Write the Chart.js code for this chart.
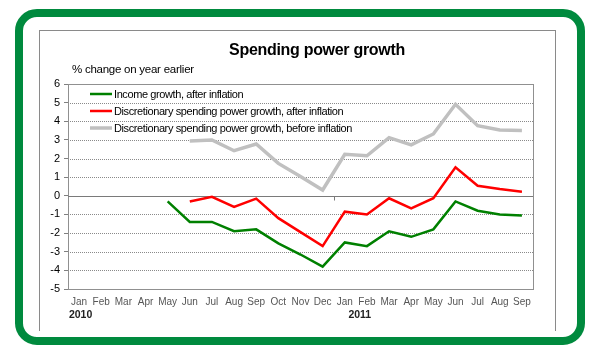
<!DOCTYPE html>
<html><head><meta charset="utf-8">
<script src="https://cdn.jsdelivr.net/npm/chart.js@4"></script>
<style>
html,body{margin:0;padding:0;background:#fff;}
#wrap{position:relative;width:600px;height:355px;overflow:hidden;}
#green{position:absolute;left:15px;top:9px;width:554px;height:320px;border:8px solid #008a3e;border-radius:22px;}
#inner{position:absolute;left:39px;top:30px;width:515px;height:300px;border:1px solid #8a8a8a;border-bottom:none;}
canvas{position:absolute;left:0;top:0;}
</style></head>
<body><div id="wrap"><div id="green"></div><div id="inner"></div><canvas id="c" width="600" height="355"></canvas></div>
<script>
const categories = ['Jan','Feb','Mar','Apr','May','Jun','Jul','Aug','Sep','Oct','Nov','Dec',
                    'Jan','Feb','Mar','Apr','May','Jun','Jul','Aug','Sep'];
const years = ['2010','2011'];
const yTicks = [6,5,4,3,2,1,0,-1,-2,-3,-4,-5];
const seriesNames = ['Income growth, after inflation',
                     'Discretionary spending power growth, after inflation',
                     'Discretionary spending power growth, before inflation'];
const incomeAfter = [null,null,null,null,-0.3,-1.4,-1.4,-1.9,-1.8,-2.55,-3.15,-3.8,
                     -2.5,-2.7,-1.9,-2.2,-1.8,-0.3,-0.8,-1.0,-1.05];
const discAfter   = [null,null,null,null,null,-0.3,-0.05,-0.6,-0.15,-1.2,-1.95,-2.7,
                     -0.85,-1.0,-0.13,-0.67,-0.13,1.53,0.54,0.36,0.22];
const discBefore  = [null,null,null,null,null,2.94,3.0,2.42,2.78,1.74,1.03,0.31,
                     2.23,2.15,3.12,2.73,3.32,4.91,3.76,3.53,3.51];

const FONT = 'Arial, "Liberation Sans", sans-serif';

const decor = {
  id:'decor',
  beforeDatasetsDraw(chart){
    const {ctx, chartArea:a, scales:{x,y}} = chart;
    ctx.save();
    // dotted grid
    ctx.strokeStyle = '#8a8a8a'; ctx.lineWidth = 1; ctx.setLineDash([1,1]);
    yTicks.forEach(v=>{
      if(v===6||v===-5||v===0) return;
      const py = Math.round(y.getPixelForValue(v))+0.5;
      ctx.beginPath(); ctx.moveTo(a.left, py); ctx.lineTo(a.right, py); ctx.stroke();
    });
    ctx.setLineDash([]);
    ctx.strokeStyle = '#909090';
    ctx.strokeRect(Math.round(a.left)+0.5, Math.round(a.top)+0.5, Math.round(a.right-a.left), Math.round(a.bottom-a.top));
    // zero (category) axis
    const z = Math.round(y.getPixelForValue(0))+0.5;
    ctx.strokeStyle = '#7a7a7a';
    ctx.beginPath(); ctx.moveTo(a.left, z); ctx.lineTo(a.right, z); ctx.stroke();
    // year boundary tick
    const bx = Math.round((x.getPixelForValue(11)+x.getPixelForValue(12))/2)+0.5;
    ctx.beginPath(); ctx.moveTo(bx, z); ctx.lineTo(bx, z+4); ctx.stroke();
    ctx.restore();
  },
  afterDraw(chart){
    const {ctx, scales:{x}} = chart;
    ctx.save();
    ctx.fillStyle = '#000';
    ctx.textBaseline = 'middle';
    ctx.font = 'bold 16px ' + FONT; ctx.textAlign='center';
    ctx.letterSpacing = '-0.3px';
    ctx.fillText('Spending power growth', 317, 51);
    ctx.font = '11.5px ' + FONT; ctx.textAlign='left';
    ctx.letterSpacing = '-0.25px';
    ctx.fillText('% change on year earlier', 72, 70);
    ctx.letterSpacing = '0px';
    // year labels
    ctx.font = 'bold 10.5px ' + FONT; ctx.textAlign='center'; ctx.fillStyle='#222';
    ctx.fillText(years[0], x.getPixelForValue(0)+1.5, 315);
    ctx.fillText(years[1], x.getPixelForValue(12)+15, 315);
    // legend
    const ds = chart.data.datasets;
    const rows = [94,111,128];
    ctx.font = '11px ' + FONT; ctx.textAlign='left'; ctx.fillStyle='#000';
    ctx.letterSpacing = '-0.4px';
    ds.forEach((d,i)=>{
      ctx.strokeStyle = d.borderColor; ctx.lineWidth = d.borderWidth;
      ctx.beginPath(); ctx.moveTo(90, rows[i]); ctx.lineTo(112, rows[i]); ctx.stroke();
      ctx.fillText(d.label, 114, rows[i]+0.5);
    });
    ctx.restore();
  }
};

new Chart(document.getElementById('c'), {
  type:'line',
  data:{
    labels: categories,
    datasets:[
      {label:seriesNames[0], data:incomeAfter, borderColor:'#008000', borderWidth:2.5, pointRadius:0, tension:0, spanGaps:false},
      {label:seriesNames[1], data:discAfter, borderColor:'#ff0000', borderWidth:2.5, pointRadius:0, tension:0},
      {label:seriesNames[2], data:discBefore, borderColor:'#c0c0c0', borderWidth:3.5, pointRadius:0, tension:0}
    ]
  },
  options:{
    responsive:false, animation:false, devicePixelRatio:1,
    layout:{padding:{left:0,top:84,right:67,bottom:0}},
    plugins:{legend:{display:false}, title:{display:false}, tooltip:{enabled:false}},
    scales:{
      x:{
        type:'category', offset:true,
        grid:{display:false, drawTicks:false},
        border:{display:false},
        ticks:{autoSkip:false, maxRotation:0, padding:7, color:'#555', font:{family:FONT, size:10}},
        afterFit(s){ s.height = 66; }
      },
      y:{
        min:-5, max:6,
        grid:{drawOnChartArea:false, drawTicks:true, tickLength:4, color:'#808080'},
        border:{display:true, color:'#808080'},
        ticks:{stepSize:1, padding:4, color:'#000', font:{family:FONT, size:11},
               callback:(v)=> yTicks.includes(v) ? String(v) : ''},
        afterFit(s){ s.width = 68; }
      }
    }
  },
  plugins:[decor]
});
</script></body></html>
